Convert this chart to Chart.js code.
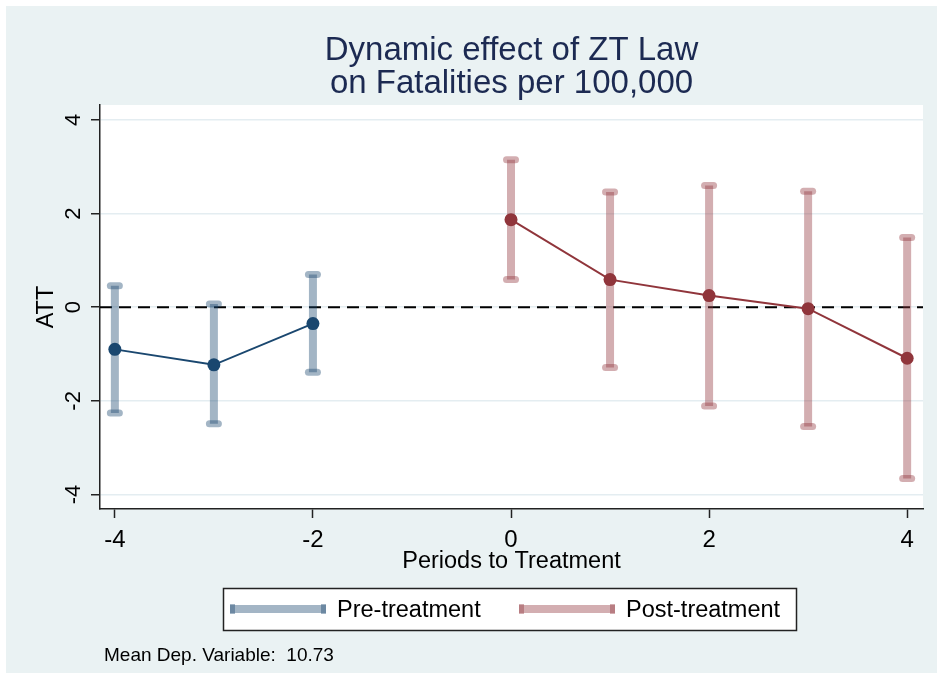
<!DOCTYPE html>
<html>
<head>
<meta charset="utf-8">
<script src="https://cdn.jsdelivr.net/npm/chart.js@4/dist/chart.umd.min.js"></script>
<style>
  html, body { margin: 0; padding: 0; background: #fff; }
  canvas { display: block; }
</style>
</head>
<body>
<canvas id="c" width="937" height="673"></canvas>
<script>
// data
const preX = [-4, -3, -2];
const preAtt = [-0.90, -1.23, -0.35];
const preLo = [-2.26, -2.49, -1.39];
const preHi = [0.46, 0.07, 0.70];

const postX = [0, 1, 2, 3, 4];
const postAtt = [1.87, 0.59, 0.25, -0.03, -1.09];
const postLo = [0.59, -1.29, -2.11, -2.55, -3.66];
const postHi = [3.15, 2.46, 2.60, 2.48, 1.49];

const xTicks = [-4, -2, 0, 2, 4];
const yTicks = [-4, -2, 0, 2, 4];

const titleLines = ['Dynamic effect of ZT Law', 'on Fatalities per 100,000'];
const legendLabels = ['Pre-treatment', 'Post-treatment'];
const noteText = 'Mean Dep. Variable:  10.73';

const FONT = "'Liberation Sans', Arial, sans-serif";
const NAVY = '#1a476f', MAROON = '#90353b';
const NAVY_A = 'rgba(26,71,111,0.4)', MAROON_A = 'rgba(144,53,59,0.4)';

const pts = (xs, ys) => xs.map((x, i) => ({ x: x, y: ys[i] }));

function drawBars(ctx, xs, lo, hi, sx, sy, color) {
  ctx.save();
  ctx.strokeStyle = color;
  for (let i = 0; i < xs.length; i++) {
    const px = sx.getPixelForValue(xs[i]);
    const p1 = sy.getPixelForValue(lo[i]);
    const p2 = sy.getPixelForValue(hi[i]);
    ctx.lineWidth = 8;
    ctx.lineCap = 'butt';
    ctx.beginPath(); ctx.moveTo(px, p1); ctx.lineTo(px, p2); ctx.stroke();
    ctx.lineWidth = 7;
    ctx.lineCap = 'round';
    [p1, p2].forEach(py => {
      ctx.beginPath(); ctx.moveTo(px - 4.5, py); ctx.lineTo(px + 4.5, py); ctx.stroke();
    });
  }
  ctx.restore();
}

function legendKey(ctx, x0, x1, y, color) {
  ctx.save();
  ctx.strokeStyle = color;
  ctx.lineCap = 'butt';
  ctx.lineWidth = 8;
  ctx.beginPath(); ctx.moveTo(x0, y); ctx.lineTo(x1, y); ctx.stroke();
  ctx.lineWidth = 5;
  [x0 + 2.5, x1 - 2.5].forEach(x => {
    ctx.beginPath(); ctx.moveTo(x, y - 5); ctx.lineTo(x, y + 5); ctx.stroke();
  });
  ctx.restore();
}

const stataLook = {
  id: 'stataLook',
  beforeDraw(chart) {
    const { ctx, chartArea: a } = chart;
    ctx.save();
    ctx.fillStyle = '#fff';
    ctx.fillRect(0, 0, chart.width, chart.height);
    ctx.fillStyle = '#eaf2f3';
    ctx.fillRect(6, 6, chart.width - 6, chart.height - 6);
    ctx.fillStyle = '#fff';
    ctx.fillRect(a.left, a.top, a.right - a.left, a.bottom - a.top);
    ctx.restore();
  },
  beforeDatasetsDraw(chart) {
    const { ctx, chartArea: a, scales } = chart;
    const sx = scales.x, sy = scales.y;
    // zero reference line
    ctx.save();
    ctx.strokeStyle = '#000';
    ctx.lineWidth = 2;
    ctx.setLineDash([12, 7]);
    const y0 = sy.getPixelForValue(0);
    ctx.beginPath(); ctx.moveTo(a.left, y0); ctx.lineTo(a.right, y0); ctx.stroke();
    ctx.restore();
    drawBars(ctx, preX, preLo, preHi, sx, sy, NAVY_A);
    drawBars(ctx, postX, postLo, postHi, sx, sy, MAROON_A);
  },
  afterDraw(chart) {
    const { ctx, chartArea: a, scales } = chart;
    const sx = scales.x, sy = scales.y;
    const cx = (a.left + a.right) / 2;
    ctx.save();

    // title
    ctx.fillStyle = '#1c2a52';
    ctx.font = '33px ' + FONT;
    ctx.textAlign = 'center';
    ctx.textBaseline = 'alphabetic';
    ctx.fillText(titleLines[0], cx, 60);
    ctx.fillText(titleLines[1], cx, 93);

    // tick labels
    ctx.fillStyle = '#000';
    ctx.font = '24px ' + FONT;
    xTicks.forEach(v => ctx.fillText(String(v), sx.getPixelForValue(v), 547));
    ctx.font = '22px ' + FONT;
    yTicks.forEach(v => {
      ctx.save();
      ctx.translate(80, sy.getPixelForValue(v));
      ctx.rotate(-Math.PI / 2);
      ctx.fillText(String(v), 0, 0);
      ctx.restore();
    });

    // axis titles
    ctx.font = '23.5px ' + FONT;
    ctx.fillText('Periods to Treatment', cx, 568);
    ctx.save();
    ctx.translate(53, (a.top + a.bottom) / 2);
    ctx.rotate(-Math.PI / 2);
    ctx.fillText('ATT', 0, 0);
    ctx.restore();

    // legend
    ctx.fillStyle = '#fff';
    ctx.fillRect(223.5, 588.5, 573, 42);
    ctx.strokeStyle = '#222';
    ctx.lineWidth = 1.5;
    ctx.strokeRect(223.5, 588.5, 573, 42);
    legendKey(ctx, 230, 326, 609, NAVY_A);
    legendKey(ctx, 519, 615, 609, MAROON_A);
    ctx.fillStyle = '#000';
    ctx.textAlign = 'left';
    ctx.font = '23.5px ' + FONT;
    ctx.fillText(legendLabels[0], 337, 617);
    ctx.fillText(legendLabels[1], 626, 617);

    // note
    ctx.font = '19px ' + FONT;
    ctx.fillText(noteText, 104, 661);
    ctx.restore();
  }
};

new Chart(document.getElementById('c'), {
  type: 'line',
  data: {
    datasets: [
      {
        label: legendLabels[0],
        data: pts(preX, preAtt),
        borderColor: NAVY,
        backgroundColor: NAVY,
        borderWidth: 2,
        pointRadius: 6.5,
        pointBorderWidth: 0,
        tension: 0
      },
      {
        label: legendLabels[1],
        data: pts(postX, postAtt),
        borderColor: MAROON,
        backgroundColor: MAROON,
        borderWidth: 2,
        pointRadius: 6.5,
        pointBorderWidth: 0,
        tension: 0
      }
    ]
  },
  options: {
    responsive: false,
    animation: false,
    devicePixelRatio: 1,
    layout: { padding: { top: 105, right: 14, bottom: 154, left: 0 } },
    plugins: {
      legend: { display: false },
      title: { display: false },
      tooltip: { enabled: false }
    },
    scales: {
      x: {
        type: 'linear',
        min: -4.15,
        max: 4.16,
        afterBuildTicks: s => { s.ticks = xTicks.map(v => ({ value: v })); },
        afterFit: s => { s.height = 10; },
        ticks: { display: false },
        grid: { drawOnChartArea: false, drawTicks: true, tickLength: 9, tickColor: '#222', tickWidth: 1.5 },
        border: { display: true, color: '#222', width: 1.5 }
      },
      y: {
        type: 'linear',
        min: -4.31,
        max: 4.32,
        afterBuildTicks: s => { s.ticks = yTicks.map(v => ({ value: v })); },
        afterFit: s => { s.width = 100; },
        ticks: { display: false },
        grid: { color: '#e4edf1', lineWidth: 1.5, drawTicks: true, tickLength: 9, tickColor: '#222', tickWidth: 1.5 },
        border: { display: true, color: '#222', width: 1.5 }
      }
    }
  },
  plugins: [stataLook]
});
</script>
</body>
</html>
